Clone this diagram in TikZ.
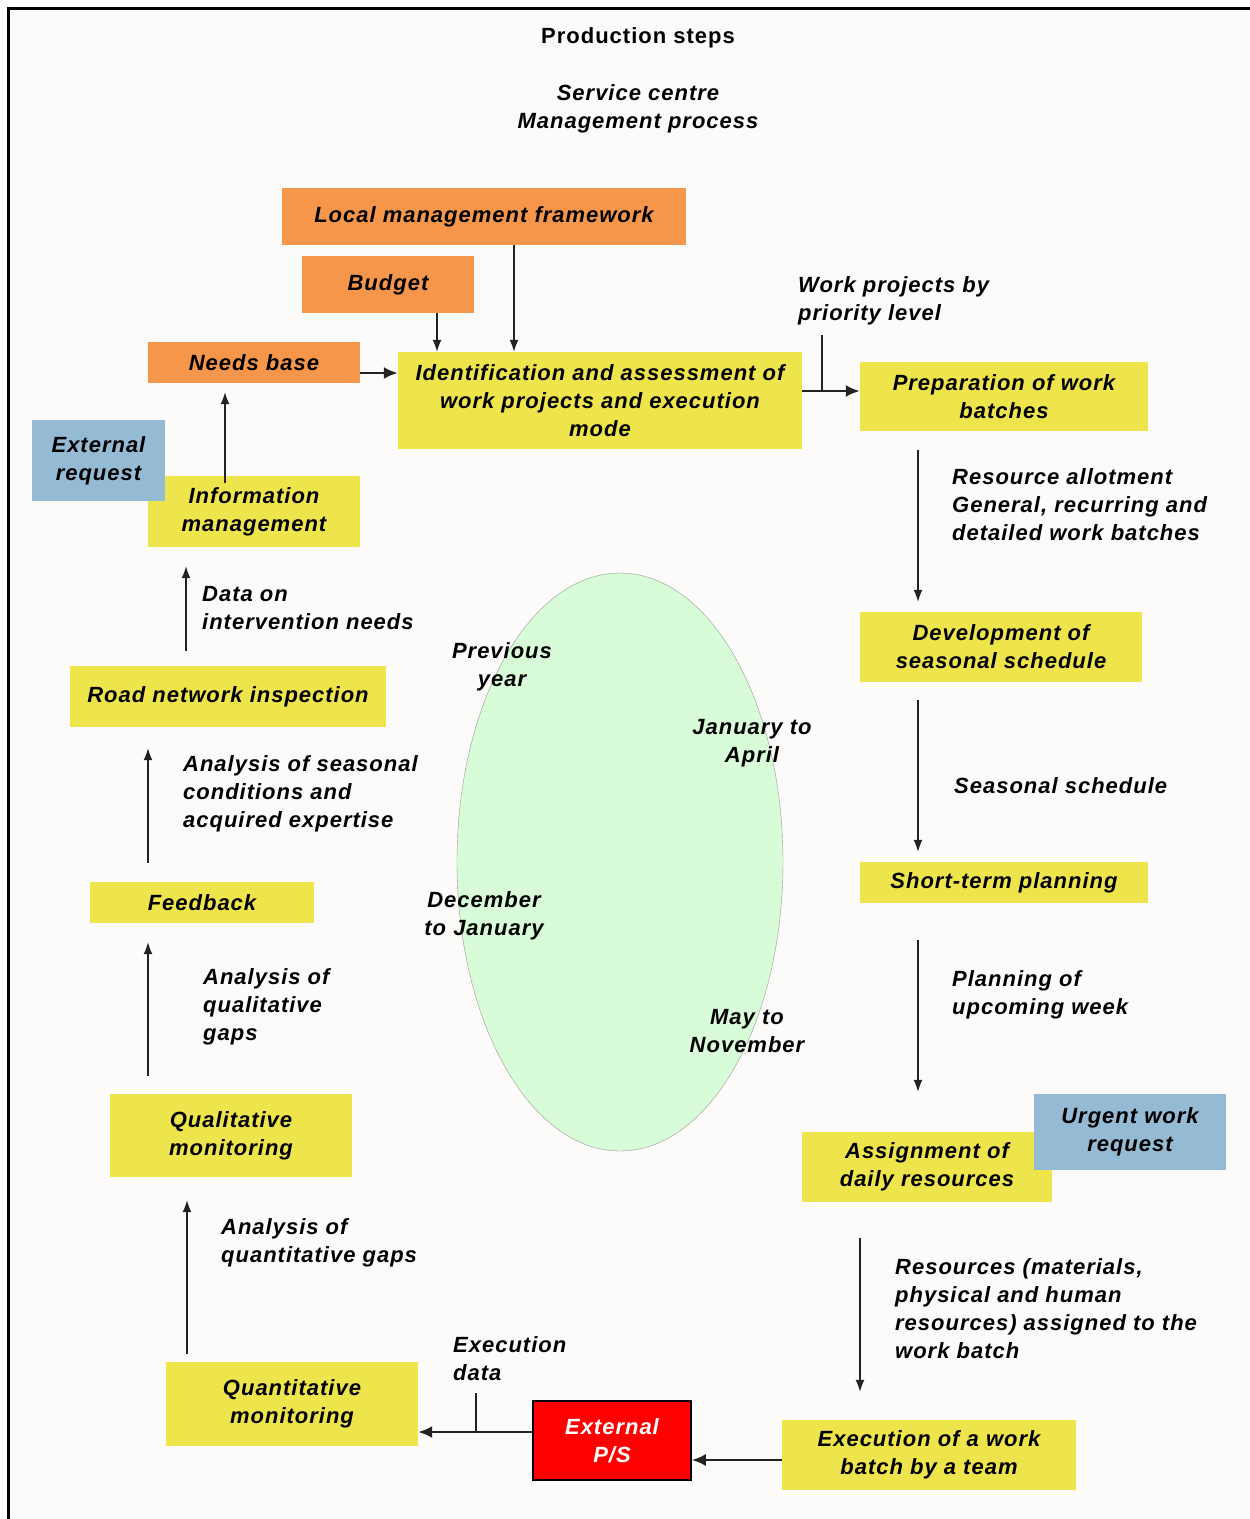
\documentclass[tikz,border=0pt]{standalone}
\usepackage{fontspec}
\setmainfont{Liberation Sans}
\newfontfamily\stepfam[LetterSpace=4.5]{Liberation Sans}
\usetikzlibrary{arrows.meta,shapes.geometric}

\definecolor{boxyellow}{RGB}{238,229,76}
\definecolor{boxorange}{RGB}{246,150,74}
\definecolor{boxblue}{RGB}{148,186,212}
\definecolor{seasongreen}{RGB}{216,251,216}
\definecolor{paper}{RGB}{252,251,249}
\definecolor{ink}{RGB}{35,35,35}
\newcommand{\stepfont}{\stepfam\fontsize{22}{28}\selectfont\bfseries\itshape}

\begin{document}
\begin{tikzpicture}[x=1pt, y=-1pt,
    stepbox/.style={inner sep=0pt, align=center, font=\stepfont},
    ybox/.style={stepbox, fill=boxyellow},
    obox/.style={stepbox, fill=boxorange},
    bbox/.style={stepbox, fill=boxblue},
    lbl/.style={inner sep=0pt, align=left, anchor=west, font=\stepfont},
    arr/.style={draw=ink, line width=1.3pt, -{Latex[length=12pt,width=9pt]}},
    thickarr/.style={draw=ink, line width=2.4pt, -{Latex[length=14pt,width=12pt]}}]
    \useasboundingbox (0,0) rectangle (1250,1519);
    \fill[paper] (8,8) rectangle (1250,1519);
    \draw[line width=3pt] (8,1519) -- (8,8) -- (1250,8);
    % heading
    \node[font=\stepfam\fontsize{22}{28}\selectfont\bfseries] (title) at (638,38) {Production steps};
    \node[stepbox] (centre) at (638,109) {Service centre\\Management process};
    % season cycle
    \node[ellipse, draw=gray!80, fill=seasongreen, minimum width=326pt, minimum height=578pt] (season) at (620,862) {};
    \node[stepbox] (prev) at (502,667) {Previous\\year};
    \node[stepbox] (janapr) at (752,743) {January to\\April};
    \node[stepbox] (decjan) at (484,916) {December\\to January};
    \node[stepbox] (maynov) at (747,1031) {May to\\November};
    % boxes
    \node[obox, minimum width=404pt, minimum height=57pt] (lmf) at (484,216.5) {Local management framework};
    \node[obox, minimum width=172pt, minimum height=57pt] (budget) at (388,284.5) {Budget};
    \node[obox, minimum width=212pt, minimum height=41pt] (needs) at (254,362.5) {Needs base};
    \node[ybox, minimum width=404pt, minimum height=97pt] (ident) at (600,400.5) {Identification and assessment of\\work projects and execution\\mode};
    \node[ybox, minimum width=288pt, minimum height=69pt] (prep) at (1004,396.5) {Preparation of work\\batches};
    \node[ybox, minimum width=212pt, minimum height=71pt] (info) at (254,511.5) {Information\\management};
    \node[bbox, minimum width=133pt, minimum height=81pt] (extreq) at (98.5,460.5) {External\\request};
    \node[ybox, minimum width=282pt, minimum height=70pt] (devel) at (1001,647) {Development of\\seasonal schedule};
    \node[ybox, minimum width=316pt, minimum height=61pt] (road) at (228,696.5) {Road network inspection};
    \node[ybox, minimum width=288pt, minimum height=41pt] (short) at (1004,882.5) {Short-term planning};
    \node[ybox, minimum width=224pt, minimum height=41pt] (feed) at (202,902.5) {Feedback};
    \node[ybox, minimum width=242pt, minimum height=83pt] (qual) at (231,1135.5) {Qualitative\\monitoring};
    \node[ybox, minimum width=250pt, minimum height=70pt] (assign) at (927,1167) {Assignment of\\daily resources};
    \node[bbox, minimum width=192pt, minimum height=76pt] (urgent) at (1130,1132) {Urgent work\\request};
    \node[ybox, minimum width=252pt, minimum height=84pt] (quant) at (292,1404) {Quantitative\\monitoring};
    \node[stepbox, fill=red, draw=black, line width=1.5pt, text=white, minimum width=158pt, minimum height=79pt] (ps) at (612,1440.5) {External\\P/S};
    \node[ybox, minimum width=294pt, minimum height=70pt] (exec) at (929,1455) {Execution of a work\\batch by a team};
    % labels
    \node[lbl] (wplbl) at (798,301) {Work projects by\\priority level};
    \node[lbl] (allotlbl) at (952,504.5) {Resource allotment\\General, recurring and\\detailed work batches};
    \node[lbl] (seaslbl) at (954,786) {Seasonal schedule};
    \node[lbl] (weeklbl) at (952,995) {Planning of\\upcoming week};
    \node[lbl] (reslbl) at (895,1309) {Resources (materials,\\physical and human\\resources) assigned to the\\work batch};
    \node[lbl] (execlbl) at (453,1359) {Execution\\data};
    \node[lbl] (quantlbl) at (221,1242.5) {Analysis of\\quantitative gaps};
    \node[lbl] (quallbl) at (203,1007) {Analysis of\\qualitative\\gaps};
    \node[lbl] (seasonlbl) at (183,794) {Analysis of seasonal\\conditions and\\acquired expertise};
    \node[lbl] (datalbl) at (202,608) {Data on\\intervention needs};
    % columns and rows of the connectors
    \coordinate (colA) at (514,0);
    \coordinate (colB) at (437,0);
    \coordinate (colE) at (225,0);
    \coordinate (colF) at (186,0);
    \coordinate (colG) at (148,0);
    \coordinate (colH) at (187,0);
    \coordinate (colR) at (918,0);
    \coordinate (colS) at (860,0);
    \coordinate (rowA) at (0,373);
    \coordinate (rowB) at (0,391);
    \coordinate (rowC) at (0,1432);
    \coordinate (rowD) at (0,1460);
    \coordinate (wptop) at (822,335);
    \coordinate (edtop) at (476,1393);
    % top
    \draw[arr] (lmf.south -| colA) -- (ident.north -| colA);
    \draw[arr] (budget.south -| colB) -- (ident.north -| colB);
    \draw[thickarr] (needs.east |- rowA) -- (ident.west |- rowA);
    \draw[thickarr] (ident.east |- rowB) -- (prep.west |- rowB);
    \draw[draw=ink, line width=1.3pt] (wptop) -- (wptop |- rowB);
    % right side
    \draw[arr, shorten <=19pt, shorten >=10pt] (prep.south -| colR) -- (devel.north -| colR);
    \draw[arr, shorten <=18pt, shorten >=10pt] (devel.south -| colR) -- (short.north -| colR);
    \draw[arr, shorten <=37pt, shorten >=40pt] (short.south -| colR) -- (assign.north -| colR);
    \draw[arr, shorten <=36pt, shorten >=28pt] (assign.south -| colS) -- (exec.north -| colS);
    % bottom
    \draw[thickarr] (exec.west |- rowD) -- (ps.east |- rowD);
    \draw[thickarr] (ps.west |- rowC) -- (quant.east |- rowC);
    \draw[draw=ink, line width=1.3pt] (edtop) -- (edtop |- rowC);
    % left side
    \draw[arr, shorten <=8pt, shorten >=23pt] (quant.north -| colH) -- (qual.south -| colH);
    \draw[arr, shorten <=18pt, shorten >=19pt] (qual.north -| colG) -- (feed.south -| colG);
    \draw[arr, shorten <=19pt, shorten >=21pt] (feed.north -| colG) -- (road.south -| colG);
    \draw[arr, shorten <=15pt, shorten >=19pt] (road.north -| colF) -- (info.south -| colF);
    \draw[arr, shorten <=-7pt, shorten >=9pt] (info.north -| colE) -- (needs.south -| colE);
\end{tikzpicture}
\end{document}
